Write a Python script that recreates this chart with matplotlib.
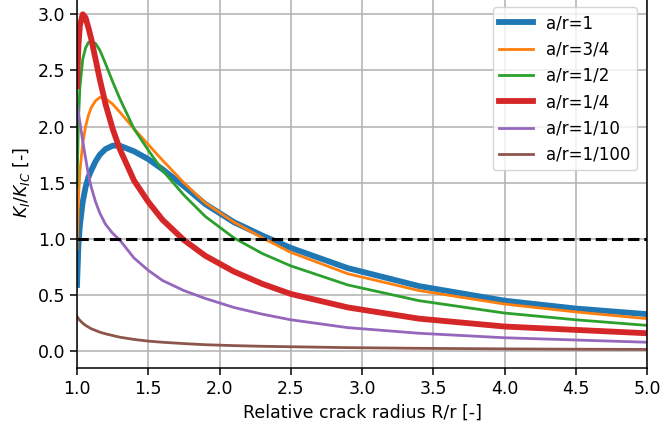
import matplotlib
matplotlib.use("Agg")
import matplotlib.pyplot as plt

x = [1.0, 1.01, 1.02, 1.04, 1.06, 1.08, 1.1, 1.13, 1.16, 1.2, 1.25, 1.3, 1.4,
     1.5, 1.6, 1.75, 1.9, 2.1, 2.3, 2.5, 2.9, 3.4, 4.0, 4.5, 5.0]

k_1 = [0.59, 0.95, 1.12, 1.33, 1.46, 1.55, 1.61, 1.69, 1.75, 1.80, 1.83, 1.83, 1.78,
       1.71, 1.62, 1.47, 1.31, 1.15, 1.03, 0.92, 0.74, 0.58, 0.45, 0.38, 0.33]
k_3_4 = [0.91, 1.35, 1.60, 1.85, 2.00, 2.10, 2.17, 2.23, 2.26, 2.25, 2.20, 2.13, 1.98,
         1.84, 1.70, 1.50, 1.32, 1.15, 1.01, 0.88, 0.69, 0.54, 0.42, 0.35, 0.29]
k_1_2 = [1.46, 2.05, 2.35, 2.60, 2.70, 2.75, 2.76, 2.74, 2.68, 2.56, 2.40, 2.25, 1.98,
         1.79, 1.61, 1.39, 1.20, 1.01, 0.87, 0.76, 0.59, 0.45, 0.34, 0.28, 0.23]
k_1_4 = [2.36, 2.72, 2.90, 3.00, 2.97, 2.88, 2.78, 2.60, 2.42, 2.20, 1.98, 1.80, 1.52,
         1.33, 1.17, 0.99, 0.85, 0.71, 0.60, 0.51, 0.39, 0.29, 0.22, 0.19, 0.16]
k_1_10 = [2.19, 2.12, 2.04, 1.87, 1.72, 1.57, 1.46, 1.33, 1.23, 1.13, 1.05, 0.99, 0.83,
          0.72, 0.63, 0.54, 0.47, 0.39, 0.33, 0.28, 0.21, 0.16, 0.12, 0.10, 0.08]
k_1_100 = [0.31, 0.29, 0.275, 0.25, 0.23, 0.215, 0.20, 0.185, 0.17, 0.155, 0.14, 0.125, 0.105,
           0.09, 0.08, 0.068, 0.058, 0.05, 0.044, 0.04, 0.032, 0.026, 0.021, 0.018, 0.016]

labels = ["a/r=1", "a/r=3/4", "a/r=1/2", "a/r=1/4", "a/r=1/10", "a/r=1/100"]
series = [k_1, k_3_4, k_1_2, k_1_4, k_1_10, k_1_100]
widths = [4.2, 2, 2, 4.2, 2, 2]
colors = ["#1f77b4", "#ff7f0e", "#2ca02c", "#d62728", "#9467bd", "#8c564b"]

fig = plt.figure(figsize=(6.6, 4.3), dpi=100)
ax = fig.add_axes([0.1167, 0.144, 0.8636, 0.862])
for y, lab, lw, c in zip(series, labels, widths, colors):
    ax.plot(x, y, label=lab, lw=lw, color=c)
ax.axhline(1.0, color="black", ls="--", lw=2.2)
ax.set_xlim(1.0, 5.0)
ax.set_ylim(-0.15, 3.15)
ax.set_yticks([0.0, 0.5, 1.0, 1.5, 2.0, 2.5, 3.0])
ax.set_xticks([1.0, 1.5, 2.0, 2.5, 3.0, 3.5, 4.0, 4.5, 5.0])
ax.grid(True, color="#b0b0b0", lw=1.1)
ax.tick_params(labelsize=12.5, length=5, width=1.1)
for s in ax.spines.values():
    s.set_linewidth(1.1)
ax.set_xlabel("Relative crack radius R/r [-]", fontsize=12.5)
ax.set_ylabel("$K_I/K_{IC}$ [-]", fontsize=12.5)
ax.legend(loc="upper right", fontsize=12, borderaxespad=0.6)
fig.savefig("out.png", dpi=100)
